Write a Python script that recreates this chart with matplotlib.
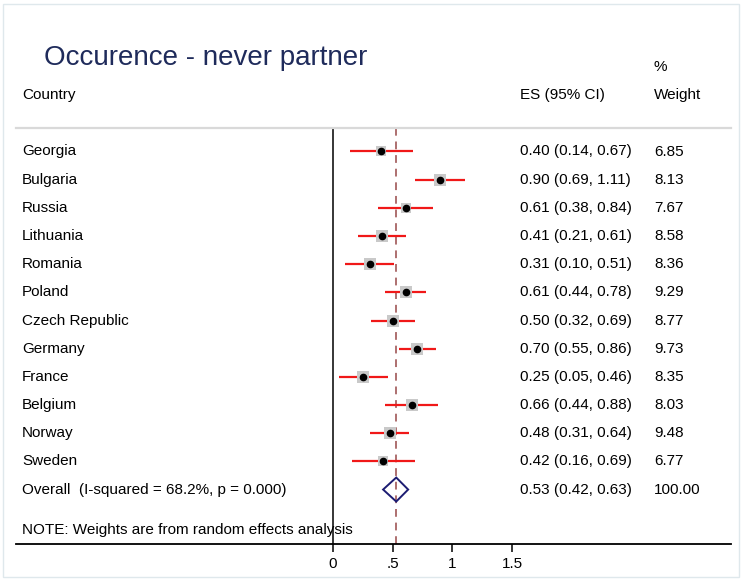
import matplotlib
matplotlib.use("Agg")
import matplotlib.pyplot as plt
from matplotlib.patches import Rectangle, Polygon

# ---------------- data ----------------
countries = ["Georgia", "Bulgaria", "Russia", "Lithuania", "Romania", "Poland",
             "Czech Republic", "Germany", "France", "Belgium", "Norway", "Sweden"]
es = [0.40, 0.90, 0.61, 0.41, 0.31, 0.61, 0.50, 0.70, 0.25, 0.66, 0.48, 0.42]
ci_low = [0.14, 0.69, 0.38, 0.21, 0.10, 0.44, 0.32, 0.55, 0.05, 0.44, 0.31, 0.16]
ci_high = [0.67, 1.11, 0.84, 0.61, 0.51, 0.78, 0.69, 0.86, 0.46, 0.88, 0.64, 0.69]
weights = [6.85, 8.13, 7.67, 8.58, 8.36, 9.29, 8.77, 9.73, 8.35, 8.03, 9.48, 6.77]
overall_es, overall_lo, overall_hi = 0.53, 0.42, 0.63
overall_weight = "100.00"
overall_label = "Overall  (I-squared = 68.2%, p = 0.000)"
note = "NOTE: Weights are from random effects analysis"
title = "Occurence - never partner"
xticks = [0, 0.5, 1, 1.5]
xticklabels = ["0", ".5", "1", "1.5"]

# ---------------- layout ----------------
W, H = 742, 580
fig = plt.figure(figsize=(W / 100, H / 100), dpi=100)
fig.patch.set_facecolor("white")
plt.rcParams["font.family"] = ["Liberation Sans", "DejaVu Sans"]

px0 = 333.0      # pixel x of effect 0
ppu = 119.3      # pixels per unit
row0, drow = 151.5, 28.17
ax_left_px, ax_right_px = 16, 731
ax_top_px, ax_bot_px = 129, 544
x_es, x_w = 520, 654

ax = fig.add_axes([ax_left_px / W, 1 - ax_bot_px / H,
                   (ax_right_px - ax_left_px) / W, (ax_bot_px - ax_top_px) / H])
ax.set_xlim((ax_left_px - px0) / ppu, (ax_right_px - px0) / ppu)
ax.set_ylim((ax_bot_px - row0) / drow, (ax_top_px - row0) / drow)
ax.patch.set_alpha(0)
for s in ["top", "left", "right"]:
    ax.spines[s].set_visible(False)
ax.spines["bottom"].set_linewidth(1.3)
ax.set_yticks([])
ax.set_xticks(xticks)
ax.set_xticklabels(xticklabels, fontsize=11)
ax.tick_params(axis="x", length=6, width=1.1, pad=3)

fs = 11
def fy(px):
    return 1 - px / H

# border
fig.add_artist(Rectangle((3 / W, 3 / H), (W - 6) / W, (H - 7) / H, transform=fig.transFigure,
                         fill=False, edgecolor="#dfe8ec", lw=1))
# gray separator
fig.add_artist(plt.Line2D([16 / W, 731 / W], [fy(128), fy(128)], color="#d9d9d9", lw=1.6,
                          transform=fig.transFigure))

# header texts
fig.text(44 / W, fy(58), title, fontsize=20, color="#1f2b5b", va="center", ha="left")
fig.text(22 / W, fy(95), "Country", fontsize=fs, va="center")
fig.text(x_es / W, fy(95), "ES (95% CI)", fontsize=fs, va="center")
fig.text(x_w / W, fy(67), "%", fontsize=fs, va="center")
fig.text(x_w / W, fy(95), "Weight", fontsize=fs, va="center")

n = len(countries)
ylo, yhi = ax.get_ylim()
# zero line and overall dashed line
ax.plot([0, 0], [ylo, yhi], color="black", lw=1.1, solid_capstyle="butt")
ax.plot([overall_es, overall_es], [ylo, yhi], color="#ad6f6f", lw=1.4,
        linestyle=(0, (4, 3)))

for i in range(n):
    ax.plot([ci_low[i], ci_high[i]], [i, i], color="#f01818", lw=1.6, solid_capstyle="butt")
    ax.plot(es[i], i, marker="s", color="#c9c9c9", markersize=8.3 * (weights[i] / 8.5) ** 0.5,
            markeredgewidth=0)
    ax.plot(es[i], i, marker="o", color="black", markersize=4.5)
    y = fy(row0 + drow * i)
    fig.text(22 / W, y, countries[i], fontsize=fs, va="center")
    fig.text(x_es / W, y, f"{es[i]:.2f} ({ci_low[i]:.2f}, {ci_high[i]:.2f})", fontsize=fs, va="center")
    fig.text(x_w / W, y, f"{weights[i]:.2f}", fontsize=fs, va="center")

# overall diamond
yo = n
hh = 12 / drow
ax.add_patch(Polygon([[overall_lo, yo], [overall_es, yo - hh], [overall_hi, yo], [overall_es, yo + hh]],
                     closed=True, fill=False, edgecolor="#1c1c72", lw=1.4, zorder=5))
y = fy(row0 + drow * n)
fig.text(22 / W, y, overall_label, fontsize=fs, va="center")
fig.text(x_es / W, y, f"{overall_es:.2f} ({overall_lo:.2f}, {overall_hi:.2f})", fontsize=fs, va="center")
fig.text(x_w / W, y, overall_weight, fontsize=fs, va="center")

fig.text(22 / W, fy(530), note, fontsize=fs, va="center")

fig.savefig("out.png", dpi=100, facecolor="white")
